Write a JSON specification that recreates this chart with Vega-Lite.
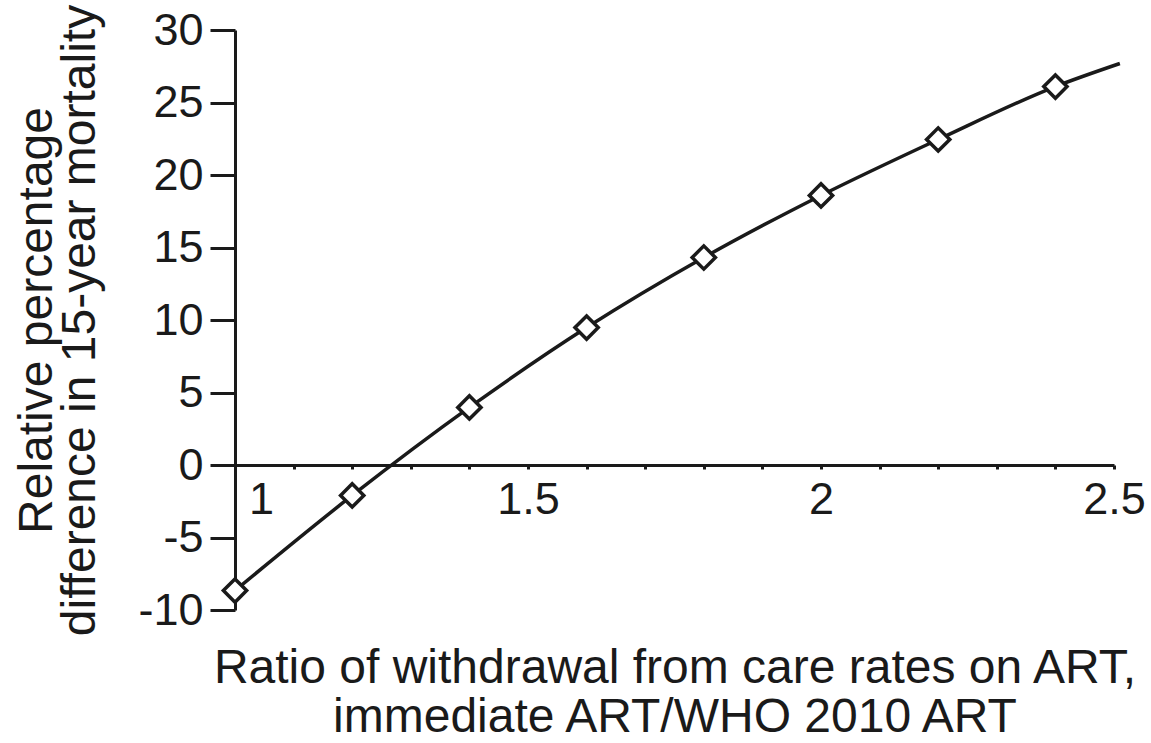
{
  "$schema": "https://vega.github.io/schema/vega-lite/v6.json",
  "width": 879,
  "height": 580,
  "autosize": {"type": "none"},
  "padding": {"left": 235, "top": 30, "right": 37, "bottom": 133},
  "background": "white",
  "config": {
    "view": {"stroke": null},
    "font": "Liberation Sans",
    "axis": {
      "grid": false,
      "domainColor": "#1a1a1a",
      "domainWidth": 3,
      "tickColor": "#1a1a1a",
      "tickWidth": 3,
      "labelColor": "#1a1a1a",
      "titleColor": "#1a1a1a",
      "labelFont": "Liberation Sans",
      "titleFont": "Liberation Sans",
      "labelFontSize": 45,
      "titleFontSize": 48,
      "titleFontWeight": "normal",
      "labelOverlap": false,
      "labelBound": false,
      "labelFlush": false
    }
  },
  "datasets": {
    "curve": [
      {"ratio": 1.0, "diff": -8.66},
      {"ratio": 1.2, "diff": -2.1},
      {"ratio": 1.4, "diff": 3.97},
      {"ratio": 1.6, "diff": 9.48},
      {"ratio": 1.8, "diff": 14.31},
      {"ratio": 2.0, "diff": 18.59},
      {"ratio": 2.2, "diff": 22.45},
      {"ratio": 2.4, "diff": 26.1},
      {"ratio": 2.51, "diff": 27.69}
    ],
    "markers": [
      {"ratio": 1.0, "diff": -8.66},
      {"ratio": 1.2, "diff": -2.1},
      {"ratio": 1.4, "diff": 3.97},
      {"ratio": 1.6, "diff": 9.48},
      {"ratio": 1.8, "diff": 14.31},
      {"ratio": 2.0, "diff": 18.59},
      {"ratio": 2.2, "diff": 22.45},
      {"ratio": 2.4, "diff": 26.1}
    ]
  },
  "encoding": {
    "x": {
      "field": "ratio",
      "type": "quantitative",
      "scale": {"domain": [1, 2.5], "nice": false, "zero": false},
      "axis": {
        "orient": "bottom",
        "offset": -145,
        "values": [1, 1.1, 1.2, 1.3, 1.4, 1.5, 1.6, 1.7, 1.8, 1.9, 2, 2.1, 2.2, 2.3, 2.4, 2.5],
        "tickSize": 4,
        "labelPadding": 8,
        "labelOffset": {"condition": {"test": "datum.value == 1", "value": 26}, "value": 0},
        "labelExpr": "datum.value == 1 ? '1' : datum.value == 1.5 ? '1.5' : datum.value == 2 ? '2' : datum.value == 2.5 ? '2.5' : ''",
        "title": ["Ratio of withdrawal from care rates on ART,", "immediate ART/WHO 2010 ART"],
        "titlePadding": 122,
        "titleLineHeight": 49
      }
    },
    "y": {
      "field": "diff",
      "type": "quantitative",
      "scale": {"domain": [-10, 30], "nice": false, "zero": false},
      "axis": {
        "values": [-10, -5, 0, 5, 10, 15, 20, 25, 30],
        "tickSize": 25,
        "labelPadding": 7,
        "labelExpr": "datum.value < 0 ? '-' + abs(datum.value) : '' + datum.value",
        "title": ["Relative percentage", "difference in 15-year mortality"],
        "titlePadding": 33,
        "titleLineHeight": 43
      }
    }
  },
  "layer": [
    {
      "data": {"name": "curve"},
      "mark": {"type": "line", "interpolate": "monotone", "color": "#1a1a1a", "strokeWidth": 3.5, "clip": false}
    },
    {
      "data": {"name": "markers"},
      "mark": {"type": "point", "shape": "diamond", "filled": true, "fill": "white", "stroke": "#1a1a1a", "strokeWidth": 3.5, "size": 540, "opacity": 1}
    }
  ]
}
